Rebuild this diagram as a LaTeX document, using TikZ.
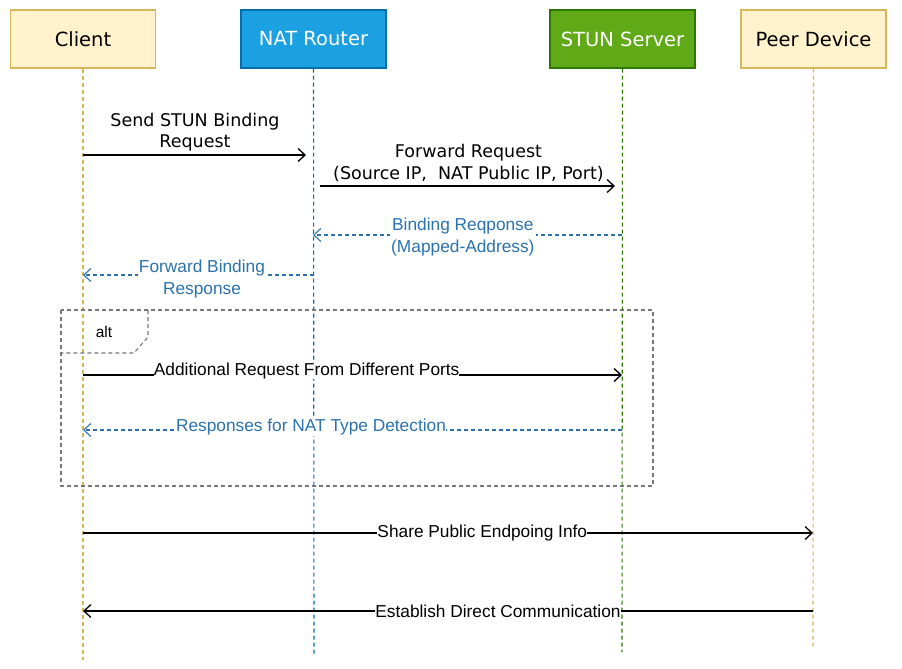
\documentclass[tikz,border=0pt]{standalone}
\usepackage{fontspec}
\setmainfont{Liberation Sans}
\newfontfamily\verd{DejaVu Sans}
\usetikzlibrary{arrows.meta}
\definecolor{yfill}{HTML}{FFF2CC}
\definecolor{ydraw}{HTML}{D6B656}
\definecolor{bfill}{HTML}{1BA1E2}
\definecolor{bdraw}{HTML}{006EAF}
\definecolor{gfill}{HTML}{60A917}
\definecolor{gdraw}{HTML}{2D7600}
\definecolor{msgblue}{HTML}{2B72AE}
\definecolor{framegray}{HTML}{777777}
\tikzset{
  actor/.style={draw, line width=1.2pt, minimum width=145pt, minimum height=58pt, inner sep=0pt, font=\verd\fontsize{19.5}{22}\selectfont},
  life/.style={line width=1.1pt, dash pattern=on 4pt off 3pt},
  msg/.style={line width=1.3pt, -{Straight Barb[length=7pt,width=13pt,line width=1.3pt]}},
  rmsg/.style={msgblue, line width=1.1pt, dash pattern=on 4pt off 3pt, -{Straight Barb[length=7pt,width=13pt,line width=1.1pt]}},
  lblv/.style={font=\verd\fontsize{17.5}{21.5}\selectfont, align=center},
  lbla/.style={font=\fontsize{17.3}{22}\selectfont, align=center},
  onl/.style={fill=white, inner sep=1pt},
}
\begin{document}
\begin{tikzpicture}[x=1pt,y=-1pt]
\useasboundingbox[fill=white] (0,0) rectangle (902,669);
% actors
\node[actor, fill=yfill, draw=ydraw] (cl) at (83,39) {Client};
\node[actor, fill=bfill, draw=bdraw, text=white] (nat) at (313.5,39) {NAT Router};
\node[actor, fill=gfill, draw=gdraw, text=white] (stun) at (622.5,39) {STUN Server};
\node[actor, fill=yfill, draw=ydraw] (peer) at (813.5,39) {Peer Device};
% lifeline ends
\coordinate (clE) at (83,660);
\coordinate (natE) at (314,655);
\coordinate (stunE) at (622,652);
\coordinate (peerE) at (813,647);
\draw[life, ydraw] (cl.south) -- (clE);
\draw[life, bdraw] (nat.south) -- (natE);
\draw[life, gdraw] (stun.south) -- (stunE);
\draw[life, ydraw] (peer.south) -- (peerE);
% message anchor points
\coordinate (c1) at (83,155); \coordinate (n1) at (306,155);
\coordinate (n2) at (320,186); \coordinate (s2) at (615,186);
\coordinate (s3) at (622,235); \coordinate (n3) at (313,235);
\coordinate (n4) at (314,275); \coordinate (c4) at (83,275);
\coordinate (c6) at (83,375); \coordinate (s6) at (622,375);
\coordinate (s7) at (622,430); \coordinate (c7) at (83,430);
\coordinate (c8) at (83,533); \coordinate (p8) at (813,533);
\coordinate (p9) at (813,611); \coordinate (c9) at (83,611);
% alt frame
\draw[framegray, line width=1.1pt, dash pattern=on 4pt off 3pt] (61,310) rectangle (653,486);
\draw[framegray, line width=1.1pt, dash pattern=on 4pt off 3pt] (148,310) -- (148,337) -- (134,353) -- (61,353);
\node[font=\fontsize{15.5}{17}\selectfont] (alt) at (104,332) {alt};
% messages
\draw[msg] (c1) -- (n1);
\node[lblv] (l1) at (195,132) {Send STUN Binding\\Request};
\draw[msg] (n2) -- (s2);
\node[lblv] (l2) at (468.5,163) {Forward Request\\(Source IP,\ \ NAT Public IP, Port)};
\draw[rmsg] (s3) -- (n3) node[pos=0.515, lbla, onl, text=msgblue, yshift=-2pt] (l3) {Binding Reqponse\\(Mapped-Address)};
\draw[rmsg] (n4) -- (c4) node[pos=0.485, lbla, onl, text=msgblue, yshift=-4pt] (l4) {Forward Binding\\Response};
\draw[msg] (c6) -- (s6) node[pos=0.415, lbla, onl, inner sep=0pt, yshift=4pt] (l6) {Additional Request From Different Ports};
\draw[rmsg] (s7) -- (c7) node[pos=0.577, lbla, onl, inner sep=0pt, text=msgblue, yshift=2.5pt] (l7) {Responses for NAT Type Detection};
\draw[msg] (c8) -- (p8) node[pos=0.547, lbla, onl, inner sep=0pt] (l8) {Share Public Endpoing Info};
\draw[msg] (p9) -- (c9) node[pos=0.4315, lbla, onl, inner sep=0pt] (l9) {Establish Direct Communication};
\end{tikzpicture}
\end{document}
